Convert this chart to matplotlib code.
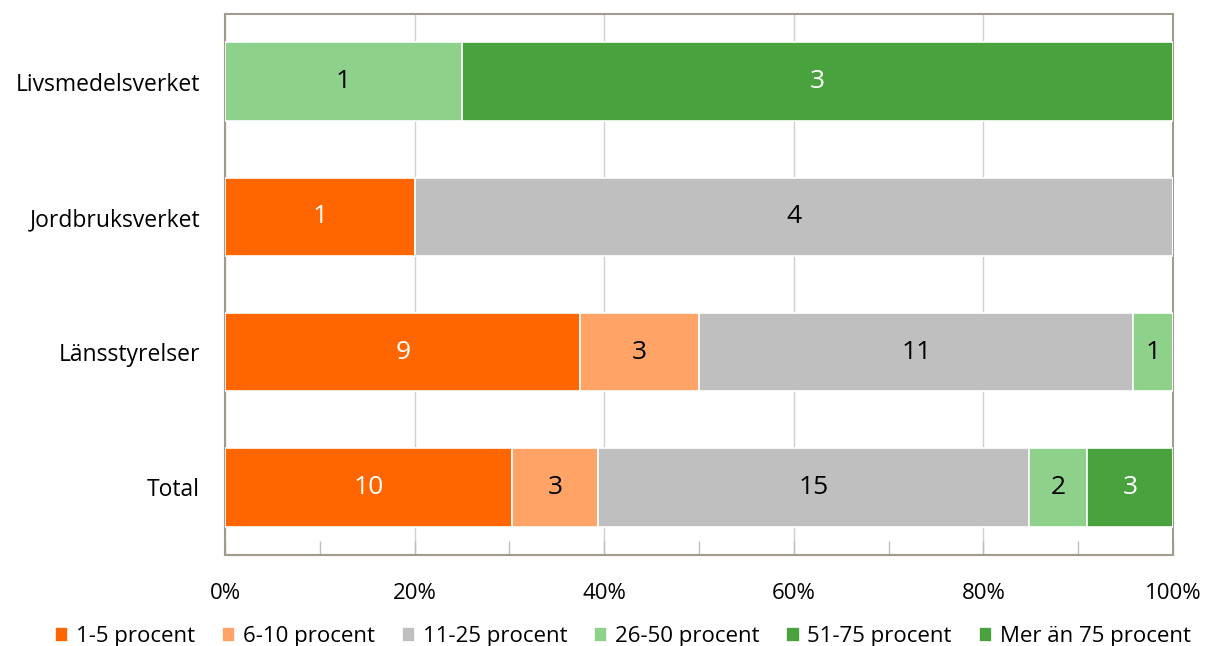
import matplotlib
matplotlib.use("Agg")
import matplotlib.pyplot as plt
import numpy as np
from matplotlib.ticker import MultipleLocator, FuncFormatter

plt.rcParams['font.family'] = ['Open Sans', 'DejaVu Sans']

categories = ["Livsmedelsverket", "Jordbruksverket", "Länsstyrelser", "Total"]
series_names = ["1-5 procent", "6-10 procent", "11-25 procent", "26-50 procent",
                "51-75 procent", "Mer än 75 procent"]
counts = {
    "1-5 procent":       [0, 1, 9, 10],
    "6-10 procent":      [0, 0, 3, 3],
    "11-25 procent":     [0, 4, 11, 15],
    "26-50 procent":     [1, 0, 1, 2],
    "51-75 procent":     [0, 0, 0, 0],
    "Mer än 75 procent": [3, 0, 0, 3],
}
colors = ["#ff6600", "#ffa366", "#bfbfbf", "#8ed18a", "#4aa23f", "#4aa23f"]
text_colors = ["white", "black", "black", "black", "white", "white"]

fig = plt.figure(figsize=(12.07, 6.46), dpi=100)
ax = fig.add_axes([0.1864, 0.1409, 0.7854, 0.8374])

data = np.array([counts[s] for s in series_names], dtype=float)
totals = data.sum(axis=0)
pct = data / totals * 100
y = np.arange(len(categories))
left = np.zeros(len(categories))
for i, s in enumerate(series_names):
    ax.barh(y, pct[i], left=left, height=0.58, color=colors[i], label=s,
            edgecolor="white", linewidth=1.2, zorder=3)
    for j in range(len(categories)):
        if data[i, j] > 0:
            ax.text(left[j] + pct[i, j] / 2, y[j], f"{int(data[i, j])}",
                    ha="center", va="center", fontsize=19,
                    color=text_colors[i], zorder=4)
    left += pct[i]

ax.set_xlim(0, 100)
ax.set_ylim(-0.5, len(categories) - 0.5)
ax.invert_yaxis()
ax.set_yticks(y)
ax.set_yticklabels(categories, fontsize=16.5)
ax.tick_params(axis="y", length=0, pad=18)
ax.xaxis.set_major_locator(MultipleLocator(20))
ax.xaxis.set_minor_locator(MultipleLocator(10))
ax.xaxis.set_major_formatter(FuncFormatter(lambda v, p: f"{int(v)}%"))
ax.tick_params(axis="x", which="both", direction="in", length=10, width=1,
               color="#bfbfbf", labelsize=16, pad=20)
ax.grid(axis="x", which="major", color="#d0d0d0", linewidth=1, zorder=0)
for sp in ax.spines.values():
    sp.set_color("#a09a8f")
    sp.set_linewidth(1.5)

fig.legend(loc="lower center", bbox_to_anchor=(0.516, -0.033), ncol=6,
           frameon=False, fontsize=16, handlelength=0.6, handleheight=0.6,
           handletextpad=0.35, columnspacing=1.2)

fig.savefig("out.png", dpi=100)
